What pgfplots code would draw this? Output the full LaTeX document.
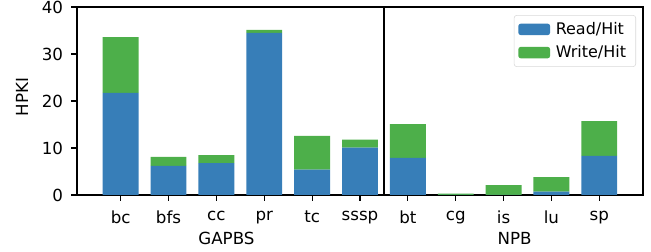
\documentclass[border=0pt]{standalone}
\usepackage{fontspec}
\setmainfont{DejaVu Sans}
\usepackage{pgfplots}
\pgfplotsset{compat=1.18}
\definecolor{cblue}{HTML}{377EB8}
\definecolor{cgreen}{HTML}{4DAF4A}
\newcommand{\fs}{\fontsize{12}{14}\selectfont}
\newcommand{\fl}{\fontsize{11.5}{13}\selectfont}
\begin{document}
\begin{tikzpicture}[x=1pt,y=1pt]
\begin{axis}[
  at={(0,0)}, anchor=south west,
  scale only axis, width=407.5pt, height=135.4pt,
  ybar stacked, bar width=0.75,
  xmin=-0.9125, xmax=10.9125, ymin=0, ymax=40,
  xtick={0,...,10},
  xticklabels={bc,bfs,cc,pr,tc,sssp,bt,cg,is,lu,sp},
  ytick={0,10,20,30,40},
  tick pos=left, tick align=outside,
  major tick length=4pt,
  every tick/.style={black, line width=0.8pt},
  axis line style={line width=0.8pt},
  /pgf/number format/assume math mode=true,
  ticklabel style={font=\fs},
  xticklabel style={yshift=-4pt},
  yticklabel style={xshift=-2.5pt},
  ylabel={HPKI}, ylabel style={font=\fs, yshift=3pt, xshift=3pt},
  legend style={at={(0.9877,0.957)}, anchor=north east, draw=black!15, rounded corners=2pt, font=\fl, row sep=2.5pt, inner sep=3pt, nodes={inner xsep=4pt}},
  legend cell align=left,
  legend image code/.code={\fill[#1] (0pt,-4.2pt) rectangle (23pt,4.2pt);},
  clip=false,
]
\addplot[fill=cblue, draw=none] coordinates {(0,21.7) (1,6.2) (2,6.8) (3,34.5) (4,5.4) (5,10.1) (6,7.9) (7,0.05) (8,0.05) (9,0.7) (10,8.3)};
\addplot[fill=cgreen, draw=none] coordinates {(0,11.9) (1,1.9) (2,1.7) (3,0.6) (4,7.2) (5,1.7) (6,7.2) (7,0.25) (8,2.05) (9,3.1) (10,7.4)};
\legend{Read/Hit, Write/Hit}
\draw[black, line width=1.5pt] (axis cs:5.5,0) -- (axis cs:5.5,40);
\node[font=\fs] at (axis cs:2.21,0) [yshift=-31.5pt] {GAPBS};
\node[font=\fs] at (axis cs:8.23,0) [yshift=-31.5pt] {NPB};
\end{axis}
\pgfresetboundingbox
\path (-55.44pt,-41.04pt) rectangle (413.28pt,140.4pt);
\end{tikzpicture}
\end{document}
